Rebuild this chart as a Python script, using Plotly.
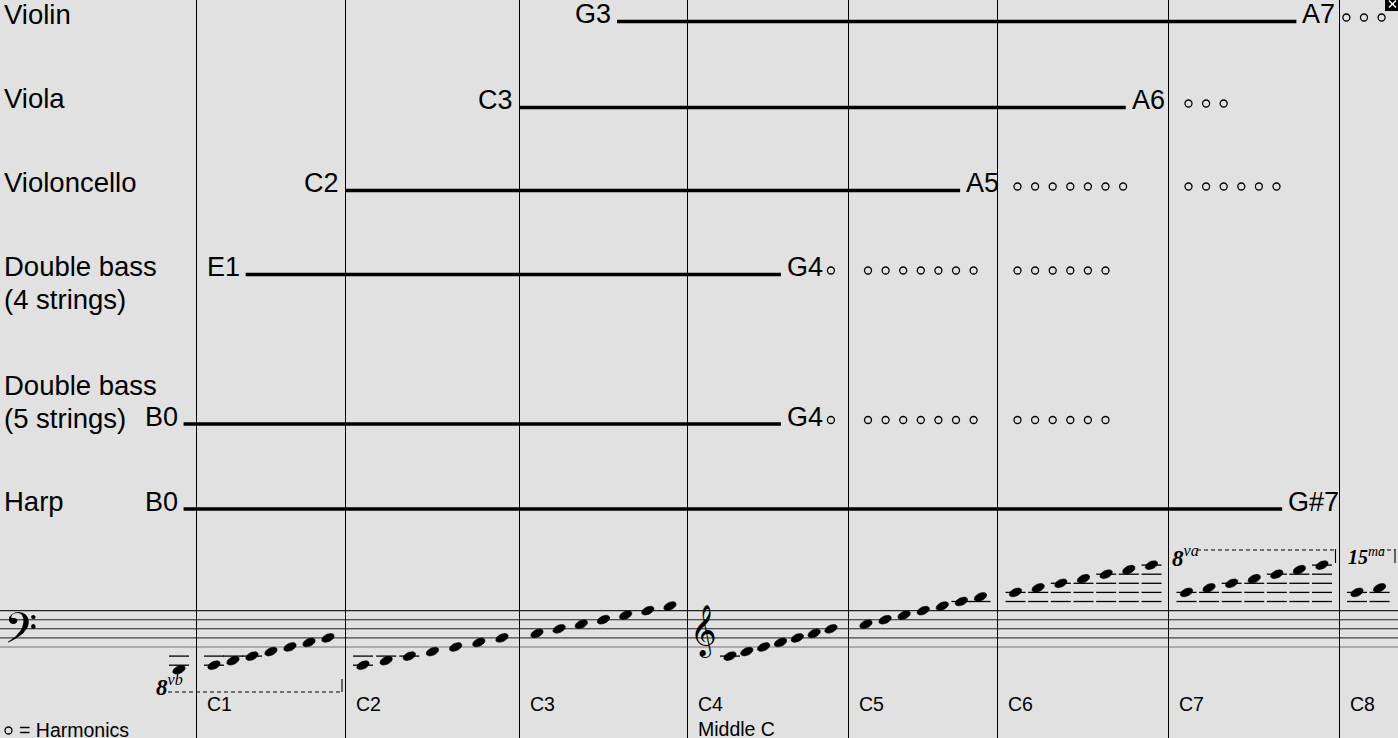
import numpy as np
import plotly.graph_objects as go

# ---------------- data ----------------
instruments = ["Violin", "Viola", "Violoncello",
               "Double bass<br>(4 strings)", "Double bass<br>(5 strings)", "Harp"]
low_notes = ["G3", "C3", "C2", "E1", "B0", "B0"]
high_notes = ["A7", "A6", "A5", "G4", "G4", "G#7"]

# harmonics groups: instrument row, octave zone (None = right after the top note), number of circles
harm_rows = [0, 1, 2, 2, 3, 3, 3, 4, 4, 4]
harm_octaves = [None, 7, 6, 7, None, 5, 6, None, 5, 6]
harm_counts = [3, 3, 7, 6, 1, 7, 6, 1, 7, 6]

octave_labels = ["C1", "C2", "C3", "C4", "C5", "C6", "C7", "C8"]
middle_c_label = "Middle C"
harmonics_legend = "= Harmonics"

staff_low, staff_high = "B0", "D8"
clef_by_octave = ["bass", "bass", "bass", "bass", "treble", "treble", "treble", "treble", "treble"]
ottava_by_octave = [-1, -1, 0, 0, 0, 0, 0, 1, 2]   # octaves transposed for writing

# ---------------- layout constants ----------------
W, H = 1398, 738
BG = "#e1e1e1"
FONT = "Liberation Sans, Arial, sans-serif"
OCT_X = [47, 196, 345, 519, 687, 848, 997.5, 1168.5, 1339, 1509.5]   # gridline of C0 .. C9
ROW_Y = [21.5, 107.5, 190.5, 274.5, 424, 509]
NAME_Y = [14, 98.5, 182.5, 266.5, 385, 501.5]
STAFF_BOTTOM = 647.0
HALF = 4.55

PC = {"C": 0, "D": 2, "E": 4, "F": 5, "G": 7, "A": 9, "B": 11}
DIA = {"C": 0, "D": 1, "E": 2, "F": 3, "G": 4, "A": 5, "B": 6}
LETTERS = "CDEFGAB"


def semis(n):
    return int(n[-1]) * 12 + PC[n[0]] + (1 if "#" in n else 0)


def diat(n):
    return int(n[-1]) * 7 + DIA[n[0]]


def x_of(n):
    return float(np.interp(semis(n) / 12.0, np.arange(len(OCT_X)), OCT_X))


fig = go.Figure()

# ---------- range bars ----------
rx, ry = [], []
for lo, hi, y in zip(low_notes, high_notes, ROW_Y):
    rx += [x_of(lo), x_of(hi), None]
    ry += [y, y, None]
fig.add_trace(go.Scatter(x=rx, y=ry, mode="lines", line=dict(color="black", width=3.3),
                         hoverinfo="skip", showlegend=False))

ann = []


def text(x, y, s, size, xanchor="left", family=FONT, yanchor="middle"):
    ann.append(dict(x=x, y=y, text=s, showarrow=False, xanchor=xanchor, yanchor=yanchor,
                    font=dict(family=family, size=size, color="black"), xref="x", yref="y"))


for i, (lo, hi, y) in enumerate(zip(low_notes, high_notes, ROW_Y)):
    text(x_of(lo) - 4, y - 7.5, lo, 27, "right")
    text(x_of(hi) + 4, y - 7.5, hi, 27, "left")
    for j, line in enumerate(instruments[i].split("<br>")):
        text(1.5, NAME_Y[i] + j * 33, line, 27.5, "left")

# ---------- harmonics ----------
hx, hy = [], []
for r, o, c in zip(harm_rows, harm_octaves, harm_counts):
    x0 = x_of(high_notes[r]) + 50 if o is None else OCT_X[o] + 20
    for k in range(c):
        hx.append(x0 + k * 17.6)
        hy.append(ROW_Y[r] - 4)
hx.append(8.5)
hy.append(730.5)
fig.add_trace(go.Scatter(x=hx, y=hy, mode="markers",
                         marker=dict(symbol="circle-open", size=7, color="black", line=dict(width=1.3)),
                         hoverinfo="skip", showlegend=False))
text(17, 729.5, harmonics_legend, 19.5, "left")

# ---------- staff ----------
shapes = []
staff_colors = ["#777", "#444", "#222", "#222", "#222"]
for i in range(5):
    yy = STAFF_BOTTOM - i * 2 * HALF
    shapes.append(dict(type="line", xref="x", yref="y", x0=0, x1=W, y0=yy, y1=yy,
                       line=dict(color=staff_colors[i], width=1.1), layer="below"))


def staff_y(dw, clef):
    ref = 18 if clef == "bass" else 30
    return STAFF_BOTTOM - (dw - ref) * HALF


notes = []
d = diat(staff_low)
while d <= diat(staff_high):
    notes.append(LETTERS[d % 7] + str(d // 7))
    d += 1

nx, ny, lx, ly = [], [], [], []
phi = np.radians(25)
t = np.linspace(0, 2 * np.pi, 24)
A, B = 6.7, 3.7
for n in notes:
    o = int(n[-1])
    k = DIA[n[0]]
    clef = clef_by_octave[o]
    lead = 43 if (o > 0 and clef_by_octave[o - 1] != clef) else 18
    start = OCT_X[o] + lead
    last = OCT_X[o + 1] - 17
    x = start + k * (last - start) / 6
    dw = diat(n) - 7 * ottava_by_octave[o]
    y = staff_y(dw, clef)
    ex = x + A * np.cos(t) * np.cos(phi) - B * np.sin(t) * np.sin(phi)
    ey = y - (A * np.cos(t) * np.sin(phi) + B * np.sin(t) * np.cos(phi))
    nx += list(ex) + [None]
    ny += list(ey) + [None]
    # ledger lines
    if clef == "bass":
        led = list(range(16, dw - 1, -2)) if dw <= 16 else []
    else:
        led = list(range(28, dw - 1, -2)) if dw <= 28 else []
        led += list(range(40, dw + 1, 2)) if dw >= 40 else []
    for ld in led:
        yy = staff_y(ld, clef)
        lx += [x - 10, x + 10, None]
        ly += [yy, yy, None]

fig.add_trace(go.Scatter(x=lx, y=ly, mode="lines", line=dict(color="black", width=1.3),
                         hoverinfo="skip", showlegend=False))
fig.add_trace(go.Scatter(x=nx, y=ny, mode="lines", fill="toself", fillcolor="black",
                         line=dict(color="black", width=0.6), hoverinfo="skip", showlegend=False))

# clefs
text(20, 633, "\U0001D122", 52, "center", family="DejaVu Sans, Noto Sans")
text(703, 630, "\U0001D11E", 45, "center", family="DejaVu Sans, Noto Sans")

# ottava marks
SERIF = "Liberation Serif, Times New Roman, serif"
text(154, 685, "<b><i>8</i></b><i><sup>vb</sup></i>", 23, "left", family=SERIF)
shapes.append(dict(type="line", xref="x", yref="y", x0=168, x1=342, y0=692, y1=692,
                   line=dict(color="black", width=1.1, dash="4px,3px")))
shapes.append(dict(type="line", xref="x", yref="y", x0=342, x1=342, y0=679, y1=692,
                   line=dict(color="black", width=1.1)))
text(1170, 556, "<b><i>8</i></b><i><sup>va</sup></i>", 23, "left", family=SERIF)
shapes.append(dict(type="line", xref="x", yref="y", x0=1197, x1=1335.5, y0=550, y1=550,
                   line=dict(color="black", width=1.1, dash="4px,3px")))
shapes.append(dict(type="line", xref="x", yref="y", x0=1335.5, x1=1335.5, y0=549, y1=563,
                   line=dict(color="black", width=1.1)))
text(1346, 556, "<b><i>15</i></b><i><sup>ma</sup></i>", 20, "left", family=SERIF)
shapes.append(dict(type="line", xref="x", yref="y", x0=1380, x1=1395, y0=550, y1=550,
                   line=dict(color="black", width=1.1, dash="4px,3px")))
shapes.append(dict(type="line", xref="x", yref="y", x0=1395, x1=1395, y0=549, y1=563,
                   line=dict(color="black", width=1.1)))

# octave labels
for lab in octave_labels:
    text(x_of(lab) + 8.5, 703.5, lab, 19.5, "left")
text(x_of("C4") + 8.5, 729, middle_c_label, 19.5, "left")

# corner icon
shapes.append(dict(type="rect", xref="x", yref="y", x0=1385, x1=1398, y0=0, y1=11,
                   fillcolor="black", line=dict(width=0)))
shapes.append(dict(type="line", xref="x", yref="y", x0=1389, x1=1396, y0=0.5, y1=7.5,
                   line=dict(color="white", width=1.4)))
shapes.append(dict(type="line", xref="x", yref="y", x0=1396, x1=1389, y0=0.5, y1=7.5,
                   line=dict(color="white", width=1.4)))

fig.update_layout(
    width=W, height=H, margin=dict(l=0, r=0, t=0, b=0),
    paper_bgcolor=BG, plot_bgcolor=BG,
    xaxis=dict(range=[0, W], showgrid=True, gridcolor="black", gridwidth=1.3,
               tickvals=[x_of(l) for l in octave_labels], showticklabels=False,
               zeroline=False, showline=False, ticks="", fixedrange=True),
    yaxis=dict(range=[H, 0], showgrid=False, zeroline=False, showticklabels=False,
               ticks="", fixedrange=True),
    shapes=shapes, annotations=ann, showlegend=False,
)
fig.write_html("out.html", config={"displayModeBar": False},
               post_script="document.body.style.margin='0';document.body.style.background='%s';" % BG)
